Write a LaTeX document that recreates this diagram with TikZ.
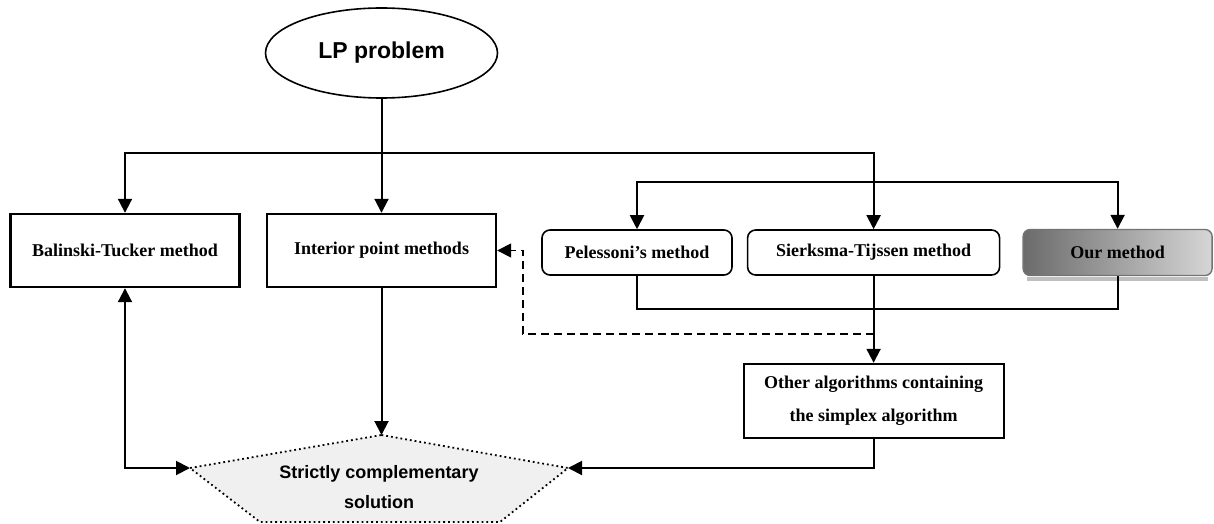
\documentclass[tikz,border=0pt]{standalone}
\usepackage{fontspec}
\setmainfont{Liberation Serif}
\setsansfont{Liberation Sans}
\usepackage{tikz}
\usetikzlibrary{positioning}
\usetikzlibrary{shapes.geometric, arrows.meta}
\tikzstyle{arrow} = [line width=2pt,-{Triangle[length=14pt,width=14pt]}]
\tikzstyle{darrow} = [line width=2pt,{Triangle[length=14pt,width=14pt]}-{Triangle[length=14pt,width=14pt]}]
\tikzstyle{line} = [line width=2pt]
\tikzstyle{box} = [draw,line width=2.4pt,minimum width=229pt,minimum height=73pt,font=\fontsize{18}{20}\selectfont\bfseries]
\tikzstyle{rbox} = [draw,line width=1.6pt,rounded corners=8pt,minimum height=45pt,font=\fontsize{18}{20}\selectfont\bfseries]

\begin{document}
\begin{tikzpicture}[x=1pt,y=-1pt]
\useasboundingbox (0,0) rectangle (1214,524);

%Nodes
\node (LP) [draw,ellipse,line width=1.6pt,minimum width=232pt,minimum height=90pt,font=\sffamily\bfseries\fontsize{23}{25}\selectfont] at (381.5,53) {LP problem};
\node (BT) [box] at (125,250.5) {Balinski-Tucker method};
\node (IP) [box] at (381.5,250.5) {Interior point methods};
\node (Pel) [rbox,minimum width=190pt] at (637,252.5) {Pelessoni’s method};
\node (ST) [rbox,minimum width=252pt, right=14pt of Pel] {Sierksma-Tijssen method};
\node (Our) [draw=black!55,line width=1.4pt,rounded corners=7pt,left color=black!58,right color=black!16,minimum width=189pt,minimum height=46pt,font=\fontsize{18}{20}\selectfont\bfseries, right=22pt of ST] {Our method};
\fill[black!25] ([xshift=5pt,yshift=-0.5pt]Our.south west) rectangle ([xshift=-5pt,yshift=-4.5pt]Our.south east);
\node (Other) [draw,line width=2.2pt,minimum width=260pt,minimum height=74pt,align=center,font=\fontsize{18}{33}\selectfont\bfseries, below=87pt of ST] {Other algorithms containing\\the simplex algorithm};

%Solution
\coordinate (St) at (381.5,435);
\coordinate (Sr) at (568,468);
\coordinate (Sbr) at (500,522);
\coordinate (Sbl) at (260,522);
\coordinate (Sl) at (190,468);
\fill[black!6] (St) -- (Sr) -- (Sbr) -- (Sbl) -- (Sl) -- cycle;
\draw[line width=1.8pt,dash pattern=on 1.8pt off 3pt] (St) -- (Sr) -- (Sbr) -- (Sbl) -- (Sl) -- cycle;
\node (Sol) [align=center,font=\sffamily\bfseries\fontsize{18}{30}\selectfont] at (379,487) {Strictly complementary\\solution};

%Lines
\coordinate (bus1) at (381.5,153);
\coordinate (bus2) at (874,182);
\draw[arrow] (LP.south) -- (IP.north);
\draw[arrow] (bus1) -| (BT.north);
\draw[arrow] (bus1) -| (ST.north);
\draw[arrow] (bus2) -| (Pel.north);
\draw[arrow] (bus2) -| (Our.north);
\draw[line] (Pel.south) -- ++(0,33) -| (Our.south);
\draw[arrow] (ST.south) -- (Other.north);
\coordinate (dstart) at (874,334);
\coordinate (dcorner) at (523,334);
\draw[line width=1.6pt,dash pattern=on 8pt off 5pt,-{Triangle[length=14pt,width=14pt]}] (dstart) -- (dcorner) |- (IP.east);
\draw[arrow] (IP.south) -- (St);
\draw[arrow] (Other.south) |- (Sr);
\draw[darrow] (BT.south) |- (Sl);

\end{tikzpicture}
\end{document}
